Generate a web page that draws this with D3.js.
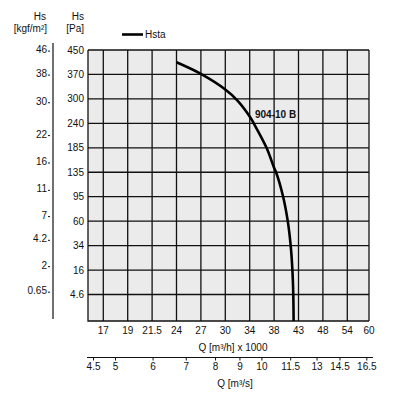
<!DOCTYPE html>
<html>
<head>
<meta charset="utf-8">
<script src="https://cdn.jsdelivr.net/npm/d3@7"></script>
<style>
  html, body { margin: 0; padding: 0; background: #fff; }
  svg { display: block; font-family: "Liberation Sans", Arial, sans-serif; }
</style>
</head>
<body>
<div id="chart"></div>
<script>
// ticks of the flow axis, m3/h x 1000 (equally spaced in the picture)
const qTicks = [17, 19, 21.5, 24, 27, 30, 34, 38, 43, 48, 54, 60];
// ticks of the flow axis in m3/s
const qsTicks = [4.5, 5, 6, 7, 8, 9, 10, 11.5, 13, 14.5, 16.5];
// pressure ticks, Pa (equally spaced), top to bottom
const paTicks = [450, 370, 300, 240, 185, 135, 95, 60, 34, 16, 4.6];
// same pressure in kgf/m2
const kgfTicks = [46, 38, 30, 22, 16, 11, 7, 4.2, 2, 0.65];

// Hsta curve of 904-10 B
const curveQ = [24, 27, 30, 32, 34, 34.66, 36.76, 38, 38.4, 39.85, 40.8, 41.4, 41.75, 41.93, 42];
const curveH = [410, 372, 327, 296, 257, 240, 185, 144, 135, 95, 60, 34, 16, 4.6, 0];

const W = 394, H = 407;
const pLeft = 88, pRight = 369, pTop = 50, pBottom = 321;
const xFirst = 103.3, xStep = 24.4;   // first Q tick and tick spacing
const yLast = 294.5;                  // where the last Pa tick sits

const svg = d3.select("#chart").append("svg")
    .attr("width", W)
    .attr("height", H);

// piecewise scales: ticks equally spaced, the last column is cut by the frame
const x = d3.scaleLinear()
    .domain(qTicks)
    .range(qTicks.map((d, i) => Math.min(xFirst + i * xStep, pRight)));

const yStep = (yLast - pTop) / (paTicks.length - 1);
const y = d3.scaleLinear()
    .domain(paTicks.concat([0]))
    .range(paTicks.map((d, i) => pTop + i * yStep).concat([pBottom]));

const font = 10;
const ink = "#111";

// plot background
svg.append("rect")
    .attr("x", pLeft).attr("y", pTop)
    .attr("width", pRight - pLeft).attr("height", pBottom - pTop)
    .attr("fill", "#ebebeb");

// grid
const grid = svg.append("g").attr("stroke", ink).attr("stroke-width", 1.3);
grid.selectAll("line.v")
    .data(qTicks)
    .join("line")
    .attr("class", "v")
    .attr("x1", d => x(d)).attr("x2", d => x(d))
    .attr("y1", pTop).attr("y2", pBottom);
grid.selectAll("line.h")
    .data(paTicks)
    .join("line")
    .attr("class", "h")
    .attr("x1", pLeft).attr("x2", pRight)
    .attr("y1", d => y(d)).attr("y2", d => y(d));

// frame
svg.append("path")
    .attr("d", `M${pLeft},${pTop}V${pBottom}H${pRight}`)
    .attr("fill", "none")
    .attr("stroke", ink)
    .attr("stroke-width", 1.3);

// curve
const pts = curveQ.map((q, i) => [x(q), y(curveH[i])]);
svg.append("path")
    .datum(pts)
    .attr("fill", "none")
    .attr("stroke", "#000")
    .attr("stroke-width", 2.6)
    .attr("d", d3.line().curve(d3.curveCatmullRom.alpha(0.5)));

svg.append("text")
    .attr("x", 255).attr("y", y(240) - 5)
    .attr("font-size", font)
    .attr("font-weight", "bold")
    .attr("fill", ink)
    .text("904-10 B");

// Pa labels
svg.append("g")
    .selectAll("text")
    .data(paTicks)
    .join("text")
    .attr("x", 84)
    .attr("y", d => y(d))
    .attr("dy", "0.35em")
    .attr("text-anchor", "end")
    .attr("font-size", font)
    .attr("fill", ink)
    .text(d => d);

// kgf/m2 axis (value converted to Pa)
const kgfX = 53;
svg.append("line")
    .attr("x1", kgfX).attr("x2", kgfX)
    .attr("y1", 43).attr("y2", 319)
    .attr("stroke", ink).attr("stroke-width", 1.2);
const kg = svg.append("g");
kg.selectAll("line")
    .data(kgfTicks)
    .join("line")
    .attr("x1", kgfX - 5).attr("x2", kgfX - 3)
    .attr("y1", d => y(d * 9.81) + 1.5).attr("y2", d => y(d * 9.81) + 1.5)
    .attr("stroke", ink).attr("stroke-width", 1);
kg.selectAll("text")
    .data(kgfTicks)
    .join("text")
    .attr("x", kgfX - 6)
    .attr("y", d => y(d * 9.81))
    .attr("dy", "0.35em")
    .attr("text-anchor", "end")
    .attr("font-size", font)
    .attr("fill", ink)
    .text(d => d);

// axis titles on the left
const titles = svg.append("g").attr("font-size", font).attr("fill", ink).attr("text-anchor", "end");
titles.append("text").attr("x", 46).attr("y", 20).text("Hs");
titles.append("text").attr("x", 47).attr("y", 32).text("[kgf/m²]");
titles.append("text").attr("x", 84).attr("y", 20).text("Hs");
titles.append("text").attr("x", 84).attr("y", 32).text("[Pa]");

// legend
svg.append("line")
    .attr("x1", 122).attr("x2", 143)
    .attr("y1", 34.5).attr("y2", 34.5)
    .attr("stroke", "#000").attr("stroke-width", 2.6);
svg.append("text")
    .attr("x", 145).attr("y", 34.5)
    .attr("dy", "0.35em")
    .attr("font-size", font)
    .attr("fill", ink)
    .text("Hsta");

// Q m3/h labels
svg.append("g")
    .selectAll("text")
    .data(qTicks)
    .join("text")
    .attr("x", d => x(d))
    .attr("y", 330.5)
    .attr("dy", "0.35em")
    .attr("text-anchor", "middle")
    .attr("font-size", font)
    .attr("fill", ink)
    .text(d => d);
svg.append("text")
    .attr("x", 233).attr("y", 347)
    .attr("dy", "0.35em")
    .attr("text-anchor", "middle")
    .attr("font-size", font)
    .attr("fill", ink)
    .text("Q [m³/h] x 1000");

// Q m3/s axis (1 m3/s = 3.6 x 1000 m3/h)
const axY = 357.5;
svg.append("line")
    .attr("x1", 87).attr("x2", 373)
    .attr("y1", axY).attr("y2", axY)
    .attr("stroke", ink).attr("stroke-width", 1.2);
const qs = svg.append("g");
qs.selectAll("line")
    .data(qsTicks)
    .join("line")
    .attr("x1", d => x(d * 3.6)).attr("x2", d => x(d * 3.6))
    .attr("y1", axY).attr("y2", axY + 3)
    .attr("stroke", ink).attr("stroke-width", 1);
qs.selectAll("text")
    .data(qsTicks)
    .join("text")
    .attr("x", d => x(d * 3.6))
    .attr("y", 366)
    .attr("dy", "0.35em")
    .attr("text-anchor", "middle")
    .attr("font-size", font)
    .attr("fill", ink)
    .text(d => d);
svg.append("text")
    .attr("x", 235).attr("y", 383)
    .attr("dy", "0.35em")
    .attr("text-anchor", "middle")
    .attr("font-size", font)
    .attr("fill", ink)
    .text("Q [m³/s]");
</script>
</body>
</html>
